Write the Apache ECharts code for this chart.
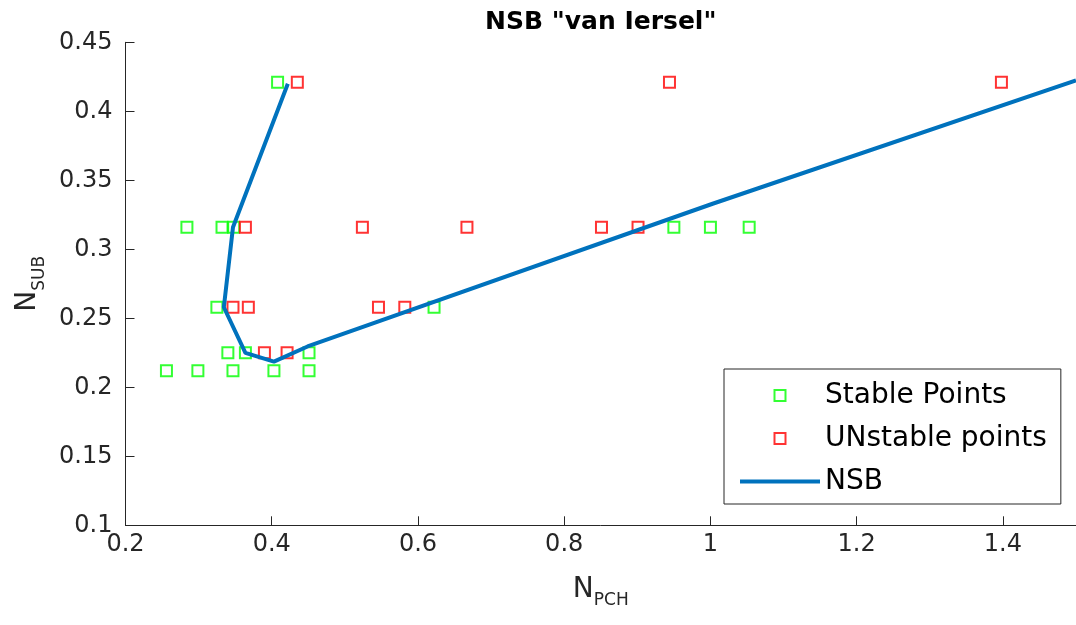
<!DOCTYPE html>
<html>
<head>
<meta charset="utf-8">
<title>NSB "van Iersel"</title>
<script src="https://cdn.jsdelivr.net/npm/echarts@6/dist/echarts.min.js"></script>
<style>
  html, body { margin: 0; padding: 0; background: #ffffff; }
  #chart { width: 1076px; height: 625px; }
</style>
</head>
<body>
<div id="chart"></div>
<script>
// Stable operating points (N_PCH, N_SUB)
const stableX = [0.408, 0.284, 0.332, 0.348, 0.950, 1.000, 1.053, 0.325, 0.622, 0.340, 0.364, 0.451, 0.256, 0.299, 0.347, 0.403, 0.451];
const stableY = [0.421, 0.316, 0.316, 0.316, 0.316, 0.316, 0.316, 0.258, 0.258, 0.225, 0.225, 0.225, 0.212, 0.212, 0.212, 0.212, 0.212];

// Unstable operating points
const unstableX = [0.435, 0.944, 1.398, 0.364, 0.524, 0.667, 0.851, 0.901, 0.347, 0.368, 0.546, 0.582, 0.390, 0.421];
const unstableY = [0.421, 0.421, 0.421, 0.316, 0.316, 0.316, 0.316, 0.316, 0.258, 0.258, 0.258, 0.258, 0.225, 0.225];

// Neutral stability boundary
const nsbX = [0.422, 0.347, 0.3345, 0.364, 0.403, 0.449, 1.003, 1.500];
const nsbY = [0.420, 0.316, 0.258, 0.225, 0.2186, 0.2296, 0.333, 0.4224];

// Axis settings
const xMin = 0.2, xMax = 1.5, xStep = 0.2;
const yMin = 0.1, yMax = 0.45, yStep = 0.05;

const seriesNames = ['Stable Points', 'UNstable points', 'NSB'];
const titleText = 'NSB "van Iersel"';

const FONT = 'DejaVu Sans';
const INK = '#262626';
const GREEN = '#00ff00', RED = '#ff0000', BLUE = '#0072bd';

const zip = (xs, ys) => xs.map((x, i) => [x, ys[i]]);

const subRich = {
  n: { fontFamily: FONT, fontSize: 28, color: INK, lineHeight: 34, verticalAlign: 'top' },
  s: { fontFamily: FONT, fontSize: 17, color: INK, lineHeight: 20, verticalAlign: 'bottom', padding: [23, 0, 0, 0] }
};

// legend glyphs: open square for the markers, flat bar for the boundary line
const squareIcon = 'path://M0 0H10V10H0Z';
const barIcon = 'path://M0 0H80V4H0Z';

const chart = echarts.init(document.getElementById('chart'), null, { renderer: 'canvas' });

chart.setOption({
  animation: false,
  backgroundColor: '#ffffff',
  grid: { left: 125.5, right: -11.5, top: 42.3, bottom: 99.7, containLabel: false },
  xAxis: [
    {
      type: 'value', position: 'bottom',
      min: xMin, max: xMax, interval: xStep,
      axisLine: { show: true, onZero: false, lineStyle: { color: INK, width: 1 } },
      axisTick: { show: true, inside: true, length: 9, lineStyle: { color: INK, width: 1 } },
      axisLabel: { show: true, margin: 7, showMaxLabel: false, fontFamily: FONT, fontSize: 24, color: INK },
      splitLine: { show: false },
      name: '{n|N}{s|PCH}', nameLocation: 'middle', nameGap: 50,
      nameTextStyle: { rich: subRich }
    },
    {
      // top axis carries the centred title only
      type: 'value', position: 'top',
      min: xMin, max: xMax, interval: xStep,
      axisLine: { show: false }, axisTick: { show: false }, axisLabel: { show: false }, splitLine: { show: false },
      name: titleText, nameLocation: 'middle', nameGap: 7,
      nameTextStyle: { fontFamily: FONT, fontSize: 25, fontWeight: 'bold', color: '#000000' }
    }
  ],
  yAxis: {
    type: 'value',
    min: yMin, max: yMax, interval: yStep,
    axisLine: { show: true, onZero: false, lineStyle: { color: INK, width: 1 } },
    axisTick: { show: true, inside: true, length: 9, lineStyle: { color: INK, width: 1 } },
    axisLabel: { show: true, margin: 13, fontFamily: FONT, fontSize: 24, color: INK },
    splitLine: { show: false },
    name: '{n|N}{s|SUB}', nameLocation: 'middle', nameGap: 71, nameRotate: 90,
    nameTextStyle: { rich: subRich }
  },
  legend: {
    orient: 'vertical',
    left: 724, top: 369,
    padding: [10, 14, 6, 16],
    itemWidth: 80, itemHeight: 11, itemGap: 10,
    symbolKeepAspect: true,
    backgroundColor: '#ffffff',
    borderColor: INK, borderWidth: 1, borderRadius: 0,
    textStyle: { fontFamily: FONT, fontSize: 28, color: '#000000', lineHeight: 33 },
    data: [
      { name: seriesNames[0], icon: squareIcon, itemStyle: { color: 'rgba(0,0,0,0)', borderColor: GREEN, borderWidth: 2 } },
      { name: seriesNames[1], icon: squareIcon, itemStyle: { color: 'rgba(0,0,0,0)', borderColor: RED, borderWidth: 2 } },
      { name: seriesNames[2], icon: barIcon, itemStyle: { color: BLUE, borderWidth: 0 }, lineStyle: { color: BLUE, width: 4 } }
    ]
  },
  series: [
    {
      name: seriesNames[0], type: 'scatter', xAxisIndex: 0,
      symbol: 'rect', symbolSize: 11,
      itemStyle: { color: 'rgba(0,0,0,0)', borderColor: GREEN, borderWidth: 2 },
      data: zip(stableX, stableY), z: 2
    },
    {
      name: seriesNames[1], type: 'scatter', xAxisIndex: 0,
      symbol: 'rect', symbolSize: 11,
      itemStyle: { color: 'rgba(0,0,0,0)', borderColor: RED, borderWidth: 2 },
      data: zip(unstableX, unstableY), z: 3
    },
    {
      name: seriesNames[2], type: 'line', xAxisIndex: 0,
      symbol: 'none', showSymbol: false,
      lineStyle: { color: BLUE, width: 4 },
      itemStyle: { color: BLUE },
      data: zip(nsbX, nsbY), z: 4
    }
  ]
});
</script>
</body>
</html>
